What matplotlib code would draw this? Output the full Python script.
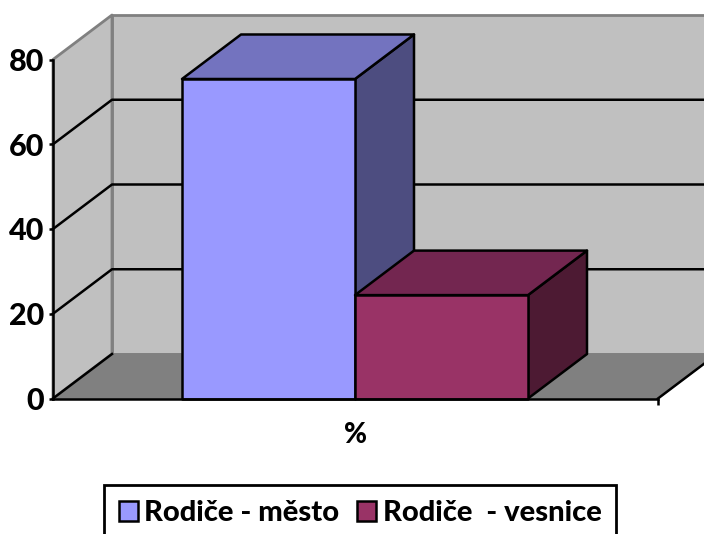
import matplotlib
matplotlib.use("Agg")
import matplotlib.pyplot as plt
from matplotlib.patches import Polygon, Rectangle

plt.rcParams['font.family'] = ['Lato', 'DejaVu Sans']

series_names = ['Rodiče - město', 'Rodiče  - vesnice']
series_values = [75.4, 24.4]
series_front = ['#9999FF', '#993366']
series_top = ['#7373BF', '#732650']
series_side = ['#4D4D80', '#4D1A33']
y_ticks = [0, 20, 40, 60, 80]
category = '%'

W, H = 704, 534
fig = plt.figure(figsize=(W / 100, H / 100), dpi=100)
ax = fig.add_axes([53 / W, 1 - 398.5 / H, 605 / W, 339 / H])
ax.set_xlim(0, 1)
ax.set_ylim(0, 80)
ax.patch.set_visible(False)
for s in ax.spines.values():
    s.set_visible(False)

DX = 59 / 605
DY = 44.5 / 339 * 80
BAR_W = 173 / 605
GAP = 129 / 605
LW = 1.8
WEIGHT = 900


def poly(pts, fc, z, ec='black', lw=LW):
    ax.add_patch(Polygon(pts, closed=True, facecolor=fc, edgecolor=ec, linewidth=lw,
                         zorder=z, clip_on=False, joinstyle='round'))


# Walls and floor
poly([(DX, DY), (1 + DX, DY), (1 + DX, 80 + DY), (DX, 80 + DY)], '#C0C0C0', 1, ec='#808080', lw=2.0)
poly([(0, 0), (DX, DY), (DX, 80 + DY), (0, 80)], '#C0C0C0', 1, ec='#808080', lw=2.0)
poly([(0, 0), (1, 0), (1 + DX, DY), (DX, DY)], '#808080', 1, ec='#808080', lw=1.0)

# Gridlines on the walls
for t in y_ticks[1:-1]:
    ax.plot([0, DX, 1 + DX], [t, t + DY, t + DY], color='black', lw=LW, zorder=2, clip_on=False)

# Bars
x = GAP
for i, (v, f, t, s) in enumerate(zip(series_values, series_front, series_top, series_side)):
    z = 5 + i
    poly([(x + BAR_W, 0), (x + BAR_W + DX, DY), (x + BAR_W + DX, v + DY), (x + BAR_W, v)], s, z)
    poly([(x, v), (x + DX, v + DY), (x + BAR_W + DX, v + DY), (x + BAR_W, v)], t, z)
    poly([(x, 0), (x + BAR_W, 0), (x + BAR_W, v), (x, v)], f, z)
    x += BAR_W

# Axes lines
ax.plot([0, 1], [0, 0], color='black', lw=LW, zorder=8, clip_on=False)
ax.plot([0, 0], [0, 80], color='black', lw=LW, zorder=3, clip_on=False)
ax.plot([1, 1 + DX], [0, DY], color='black', lw=LW, zorder=2, clip_on=False)
ax.plot([0, DX], [0, DY], color='black', lw=LW, zorder=2, clip_on=False)

ax.set_yticks(y_ticks)
ax.set_xticks([1])
ax.set_xticklabels([''])
ax.tick_params(axis='y', length=3, width=LW, color='black', pad=3.5, labelsize=22)
ax.tick_params(axis='x', length=4, width=LW, color='black')
for lab in ax.get_yticklabels():
    lab.set_fontweight(WEIGHT)
ax.text(0.5, -8.7, category, ha='center', va='center', fontsize=20, fontweight=WEIGHT, clip_on=False)

# Legend
handles = [Rectangle((0, 0), 1, 1, facecolor=c, edgecolor='black', linewidth=1.8) for c in series_front]
leg = fig.legend(handles, series_names, loc='center', bbox_to_anchor=(360 / W, 1 - 513 / H), ncol=2,
                 frameon=True, fancybox=False, edgecolor='black', framealpha=1,
                 prop={'weight': WEIGHT, 'size': 21}, columnspacing=0.6, handlelength=0.66,
                 handleheight=0.66, handletextpad=0.22, borderpad=0.5, borderaxespad=0)
leg.get_frame().set_linewidth(2.0)

fig.savefig('out.png', dpi=100)
